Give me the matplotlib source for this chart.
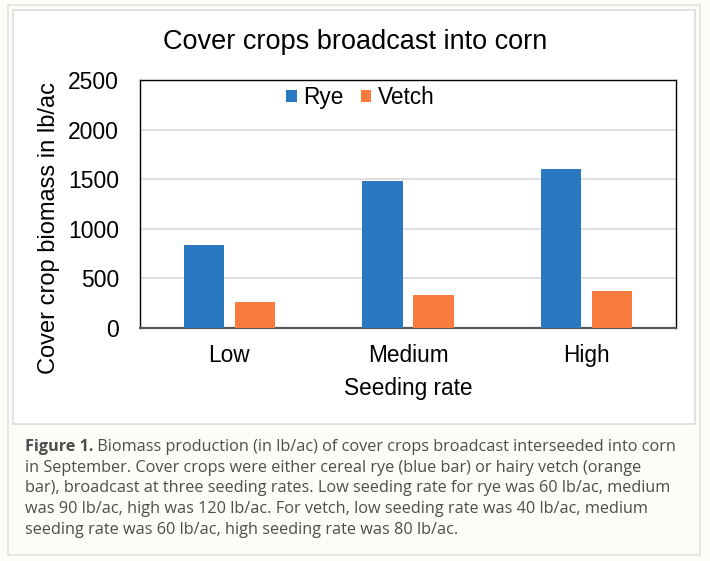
import matplotlib
matplotlib.use("Agg")
import matplotlib.pyplot as plt
from matplotlib.patches import Rectangle
import numpy as np

categories = ["Low", "Medium", "High"]
rye = [840, 1480, 1600]
vetch = [260, 330, 375]
series_names = ["Rye", "Vetch"]
yticks = [0, 500, 1000, 1500, 2000, 2500]
title = "Cover crops broadcast into corn"
xlabel = "Seeding rate"
ylabel = "Cover crop biomass in lb/ac"
caption_bold = "Figure 1."
caption_lines = [
    " Biomass production (in lb/ac) of cover crops broadcast interseeded into corn",
    "in September. Cover crops were either cereal rye (blue bar) or hairy vetch (orange",
    "bar), broadcast at three seeding rates. Low seeding rate for rye was 60 lb/ac, medium",
    "was 90 lb/ac, high was 120 lb/ac. For vetch, low seeding rate was 40 lb/ac, medium",
    "seeding rate was 60 lb/ac, high seeding rate was 80 lb/ac.",
]

W, H = 710, 561
fig = plt.figure(figsize=(W / 100, H / 100), dpi=100)
fig.patch.set_facecolor("#fdfcf8")

def fx(px):
    return px / W

def fy(py):
    return 1 - py / H

# outer box
fig.patches.append(Rectangle((fx(8), fy(555)), fx(700) - fx(8), fy(5) - fy(555),
                             transform=fig.transFigure, facecolor="#fdfcf8",
                             edgecolor="#e2e2de", linewidth=1.2, zorder=-20))
# inner white chart panel
fig.patches.append(Rectangle((fx(13), fy(424)), fx(695) - fx(13), fy(10) - fy(424),
                             transform=fig.transFigure, facecolor="white",
                             edgecolor="#dcdcdc", linewidth=1.2, zorder=-10))

blue = "#2a78c2"
orange = "#fa7b3e"
font = "Liberation Sans"

ax = fig.add_axes([fx(140), fy(328), fx(676) - fx(140), fy(80) - fy(328)])
ax.set_zorder(5)
ax.set_facecolor("white")
x = np.arange(len(categories))
w = 0.225
off = 0.143
ax.bar(x - off, rye, w, color=blue, label=series_names[0], zorder=3)
ax.bar(x + off, vetch, w, color=orange, label=series_names[1], zorder=3)
ax.set_xlim(-0.5, len(categories) - 0.5)
ax.set_ylim(0, 2500)
ax.set_yticks(yticks)
ax.set_yticklabels([str(v) for v in yticks], fontfamily=font, fontsize=16.5)
ax.set_xticks(x)
ax.set_xticklabels(categories, fontfamily=font, fontsize=16.3)
ax.tick_params(length=0)
ax.tick_params(axis="y", pad=15)
ax.tick_params(axis="x", pad=11.5)
ax.grid(axis="y", color="#d9d9d9", linewidth=1.2, zorder=0)
ax.set_axisbelow(True)
for s in ["top", "right", "left"]:
    ax.spines[s].set_color("black")
    ax.spines[s].set_linewidth(1.0)
ax.spines["bottom"].set_color("#595959")
ax.spines["bottom"].set_linewidth(1.6)
ax.set_xlabel(xlabel, fontfamily=font, fontsize=16.3, labelpad=7.5)

fig.text(fx(49), fy(228), ylabel, rotation=90, ha="center", va="center",
         fontfamily=font, fontsize=17)
fig.text(fx(355), fy(42), title, ha="center", va="center", fontfamily=font, fontsize=19.5)

leg = ax.legend(loc="center", bbox_to_anchor=((360 - 140) / 536, (328 - 97.5) / 248),
                ncol=2, frameon=False, prop={"family": font, "size": 16.3},
                handlelength=0.48, handleheight=0.48, handletextpad=0.27,
                columnspacing=0.77, borderpad=0.2)

# caption
cap_color = "#4d4d4d"
cap_font = "Open Sans"
cap_size = 11.7
ys = [447, 468, 488.5, 509, 529.5]
t = fig.text(fx(25), fy(ys[0]), caption_bold, ha="left", va="center",
             fontfamily=cap_font, fontsize=cap_size, fontweight="bold", color=cap_color)
fig.canvas.draw()
bb = t.get_window_extent()
fig.text(bb.x1 / W, fy(ys[0]), caption_lines[0], ha="left", va="center",
         fontfamily=cap_font, fontsize=cap_size, color=cap_color)
for yy, line in zip(ys[1:], caption_lines[1:]):
    fig.text(fx(25), fy(yy), line, ha="left", va="center",
             fontfamily=cap_font, fontsize=cap_size, color=cap_color)

fig.savefig("out.png", dpi=100, facecolor=fig.get_facecolor())
